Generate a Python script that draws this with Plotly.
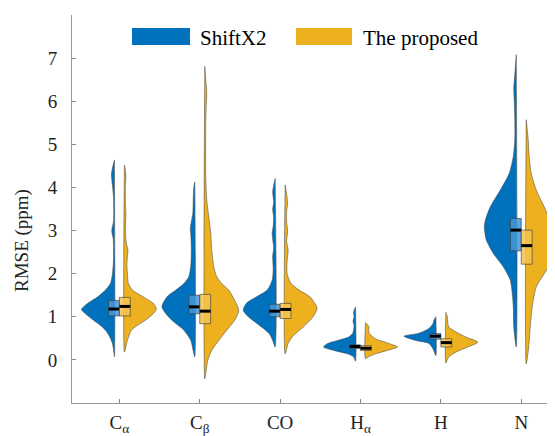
import plotly.graph_objects as go

# ---------------- data ----------------
categories = ["Cα", "Cβ", "CO", "Hα", "H", "N"]
tick_labels = ["C<sub>α</sub>", "C<sub>β</sub>", "CO", "H<sub>α</sub>", "H", "N"]
series_names = ["ShiftX2", "The proposed"]

# violin profiles: RMSE value -> relative density (max ~ 33)
shiftx2_profiles = [
    # C alpha
    [(0.07, 0), (0.25, 1), (0.38, 2), (0.55, 5), (0.69, 9), (0.8, 14), (0.92, 21), (1.07, 29),
     (1.17, 33), (1.31, 27), (1.46, 17), (1.62, 9), (1.77, 4), (2.0, 2), (2.3, 1), (2.8, 1.2),
     (2.95, 2.5), (3.05, 2.5), (3.2, 1), (3.8, 1), (4.15, 2.5), (4.3, 3), (4.45, 2), (4.55, 1), (4.64, 0)],
    # C beta
    [(0.07, 0), (0.2, 1.5), (0.45, 4), (0.69, 11), (0.92, 23), (1.07, 29), (1.23, 33), (1.46, 28),
     (1.62, 19), (1.77, 11), (1.93, 6), (2.2, 4), (2.6, 3.5), (2.9, 4), (3.05, 4.5), (3.2, 3.5),
     (3.4, 2), (3.8, 1.5), (4.0, 1), (4.13, 0)],
    # CO
    [(0.3, 0), (0.45, 2.5), (0.61, 6), (0.84, 18), (1.0, 27), (1.15, 32), (1.31, 29), (1.46, 19),
     (1.62, 8), (1.85, 3), (2.1, 2), (2.4, 2.5), (2.6, 1.5), (2.8, 2.5), (2.95, 3), (3.1, 2),
     (3.3, 1.5), (3.5, 2.5), (3.65, 1.5), (3.9, 2.5), (4.05, 1.5), (4.21, 0)],
    # H alpha
    [(-0.03, 0), (0.07, 2), (0.14, 8), (0.22, 22), (0.3, 32), (0.38, 28), (0.45, 18), (0.53, 7),
     (0.61, 3), (0.69, 2), (0.8, 1.5), (0.9, 2.5), (1.0, 1.5), (1.1, 2), (1.23, 0)],
    # H
    [(0.1, 0), (0.26, 3), (0.38, 7), (0.45, 20), (0.55, 32), (0.62, 17), (0.73, 7), (0.84, 3),
     (0.92, 2), (1.0, 0)],
    # N
    [(0.3, 0), (0.76, 2.5), (1.23, 3), (1.54, 4), (1.85, 6), (2.16, 13), (2.47, 23), (2.78, 30),
     (3.09, 32), (3.24, 31), (3.55, 26), (3.94, 16), (4.33, 7), (4.72, 3), (5.1, 1.5), (5.6, 1.5),
     (6.0, 2), (6.3, 2.5), (6.6, 1.5), (7.08, 0)],
]

proposed_profiles = [
    # C alpha
    [(0.18, 0), (0.3, 1.5), (0.45, 3), (0.69, 7), (0.8, 13), (0.92, 21), (1.05, 28), (1.18, 32),
     (1.31, 29), (1.46, 19), (1.62, 8), (1.77, 4), (2.0, 3), (2.2, 2.5), (2.4, 3), (2.55, 3.5),
     (2.7, 2), (3.0, 1), (3.4, 1.5), (3.6, 1), (4.1, 1), (4.2, 1.5), (4.4, 1), (4.52, 0)],
    # C beta
    [(-0.44, 0), (-0.24, 1.5), (-0.01, 3), (0.22, 7), (0.45, 14), (0.69, 22), (0.92, 30), (1.15, 34),
     (1.38, 30), (1.62, 24), (1.77, 17), (1.93, 12), (2.16, 9), (2.55, 7), (2.93, 6), (3.32, 4),
     (3.71, 2), (4.2, 1), (5.5, 1), (5.9, 1.5), (6.2, 2), (6.5, 1), (6.81, 0)],
    # CO
    [(0.14, 0), (0.38, 3), (0.53, 7), (0.76, 18), (1.0, 28), (1.2, 32), (1.46, 25), (1.62, 14),
     (1.77, 6), (2.0, 2), (2.3, 2), (2.55, 3), (2.75, 1.5), (3.0, 2.5), (3.2, 1.5), (3.45, 1.5),
     (3.63, 2.5), (3.85, 1.5), (4.06, 0)],
    # H alpha
    [(0.03, 0), (0.07, 3), (0.14, 10), (0.22, 22), (0.3, 32), (0.36, 26), (0.41, 20), (0.49, 10),
     (0.61, 4), (0.7, 3), (0.75, 3.5), (0.82, 2), (0.86, 0)],
    # H
    [(-0.07, 0), (0.07, 3), (0.18, 10), (0.3, 22), (0.41, 32), (0.53, 20), (0.65, 10), (0.76, 3),
     (0.85, 2), (1.0, 1.5), (1.1, 0)],
    # N
    [(-0.09, 0), (0.3, 2.5), (0.76, 4), (1.23, 6), (1.69, 10), (2.0, 18), (2.31, 27), (2.62, 32),
     (2.9, 30), (3.09, 26), (3.55, 18), (3.94, 10), (4.33, 5), (4.7, 3), (5.1, 2), (5.57, 0)],
]

# box statistics: q1, median, q3
shiftx2_q1 = [1.02, 1.07, 1.00, 0.26, 0.48, 2.53]
shiftx2_median = [1.18, 1.23, 1.13, 0.31, 0.55, 3.01]
shiftx2_q3 = [1.38, 1.50, 1.29, 0.35, 0.61, 3.28]

proposed_q1 = [1.02, 0.84, 0.96, 0.22, 0.30, 2.22]
proposed_median = [1.24, 1.13, 1.17, 0.27, 0.40, 2.65]
proposed_q3 = [1.45, 1.52, 1.31, 0.33, 0.49, 3.01]

y_ticks = [0, 1, 2, 3, 4, 5, 6, 7]

# ---------------- styling ----------------
BLUE = "#0072BD"
YELLOW = "#EDB120"
BOX_BLUE = "rgba(70,150,215,0.85)"
BOX_YELLOW = "rgba(245,195,80,0.85)"
EDGE = "rgba(60,60,60,0.8)"
FONT = "Liberation Serif, Times New Roman, serif"

GAP = 0.062
HALF_MAX = 0.41
DENS_MAX = 33.0
BOX_W = 0.135

# the page body has an 8px margin, so the figure is sized to fit the 555x436 window
OFF = 8
W, H = 555 - OFF, 436 - OFF
ML, MR, MT, MB = 72 - OFF, 0, 15 - OFF, H - (403 - OFF)

fig = go.Figure()


def violin(xc, profile, side, color):
    xs, ys = [], []
    for v, d in profile:
        w = HALF_MAX * d / DENS_MAX
        if side < 0:
            xs.append(xc - GAP - w)
        else:
            xs.append(xc + GAP + w)
        ys.append(v)
    edge = xc - GAP if side < 0 else xc + GAP
    xs = xs + [edge, edge]
    ys = ys + [profile[-1][0], profile[0][0]]
    fig.add_trace(go.Scatter(
        x=xs, y=ys, mode="lines", fill="toself", fillcolor=color,
        line=dict(color="rgba(70,70,70,0.9)", width=0.6, shape="spline", smoothing=0.7),
        hoverinfo="skip", showlegend=False))


def box(xc, q1, med, q3, side, fill):
    x0, x1 = (xc - BOX_W, xc) if side < 0 else (xc, xc + BOX_W)
    fig.add_trace(go.Scatter(
        x=[x0, x1, x1, x0, x0], y=[q1, q1, q3, q3, q1], mode="lines",
        fill="toself", fillcolor=fill, line=dict(color=EDGE, width=0.8),
        hoverinfo="skip", showlegend=False))
    fig.add_trace(go.Scatter(
        x=[x0, x1], y=[med, med], mode="lines",
        line=dict(color="black", width=3), hoverinfo="skip", showlegend=False))


for i, cat in enumerate(categories):
    xc = i + 1
    violin(xc, shiftx2_profiles[i], -1, BLUE)
    violin(xc, proposed_profiles[i], 1, YELLOW)
for i, cat in enumerate(categories):
    xc = i + 1
    box(xc, shiftx2_q1[i], shiftx2_median[i], shiftx2_q3[i], -1, BOX_BLUE)
    box(xc, proposed_q1[i], proposed_median[i], proposed_q3[i], 1, BOX_YELLOW)

# ---------------- legend (drawn manually) ----------------
pw = W - ML - MR
ph = H - MT - MB


def px(x):  # window pixel -> paper fraction
    return (x - OFF - ML) / pw


def py(y):
    return 1 - (y - OFF - MT) / ph


shapes = []
annotations = []
legend_items = [(132, 190, 198, BLUE, series_names[0]), (296, 352, 361, YELLOW, series_names[1])]
for x0, x1, xt, col, name in legend_items:
    shapes.append(dict(type="rect", xref="paper", yref="paper", x0=px(x0), x1=px(x1),
                       y0=py(45), y1=py(28), fillcolor=col, line=dict(width=0), layer="above"))
    annotations.append(dict(text=name, xref="paper", yref="paper", x=px(xt), y=py(38),
                            xanchor="left", yanchor="middle", showarrow=False,
                            font=dict(family=FONT, size=21, color="black")))

# y-axis title placed as rotated annotation
annotations.append(dict(text="RMSE (ppm)", xref="paper", yref="paper", x=px(22), y=py(241),
                        xanchor="center", yanchor="middle", textangle=-90, showarrow=False,
                        font=dict(family=FONT, size=19, color="#222")))

fig.update_layout(
    width=W, height=H,
    margin=dict(l=ML, r=MR, t=MT, b=MB, autoexpand=False),
    paper_bgcolor="white", plot_bgcolor="white",
    font=dict(family=FONT, size=19, color="#222"),
    shapes=shapes, annotations=annotations,
    showlegend=False,
)
fig.update_xaxes(
    range=[0.41, 6.42], tickmode="array", tickvals=list(range(1, len(categories) + 1)),
    ticktext=tick_labels, ticks="inside", ticklen=4, tickcolor="#888",
    showline=True, linecolor="#999", linewidth=1, showgrid=False, zeroline=False,
    automargin=False, ticklabelstandoff=2, tickfont=dict(family=FONT, size=19, color="#222"),
)
fig.update_yaxes(
    range=[-1.0, 8.0], tickmode="array", tickvals=y_ticks,
    ticks="inside", ticklen=4, tickcolor="#888",
    showline=True, linecolor="#999", linewidth=1, showgrid=False, zeroline=False,
    automargin=False, ticklabelstandoff=10, tickfont=dict(family=FONT, size=19, color="#222"),
)

fig.write_html("out.html")
